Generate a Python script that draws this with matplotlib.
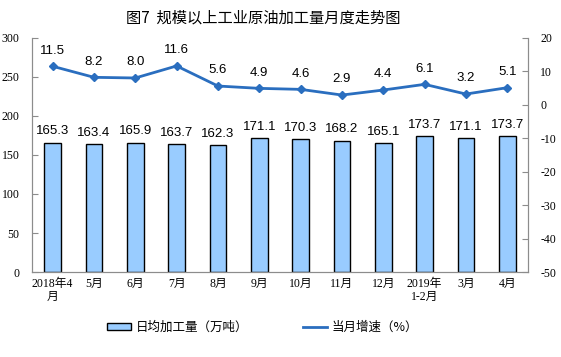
import matplotlib
matplotlib.use("Agg")
import matplotlib.pyplot as plt
from matplotlib.lines import Line2D
from matplotlib.patches import Patch

# ── Data ────────────────────────────────────────────────────────────────
months = ["2018年4\n月", "5月", "6月", "7月", "8月", "9月", "10月", "11月",
          "12月", "2019年\n1-2月", "3月", "4月"]
daily_output = [165.3, 163.4, 165.9, 163.7, 162.3, 171.1, 170.3, 168.2,
                165.1, 173.7, 171.1, 173.7]
growth = [11.5, 8.2, 8.0, 11.6, 5.6, 4.9, 4.6, 2.9, 4.4, 6.1, 3.2, 5.1]

TITLE = "图7  规模以上工业原油加工量月度走势图"
BAR_LABEL = "日均加工量（万吨）"
LINE_LABEL = "当月增速（%）"

# ── Style ───────────────────────────────────────────────────────────────
BAR_COLOR = "#99ccff"
LINE_COLOR = "#2a6ebf"
SPINE_COLOR = "#8c8c8c"
SERIF = ["Liberation Serif", "Noto Sans CJK SC"]
SANS = ["Liberation Sans", "Noto Sans CJK SC"]
CJK = ["Noto Sans CJK SC", "DejaVu Sans"]

plt.rcParams["font.family"] = CJK
plt.rcParams["axes.unicode_minus"] = False

fig = plt.figure(figsize=(5.61, 3.57), dpi=100)
ax = fig.add_axes([0.057, 0.238, 0.884, 0.656])
ax2 = ax.twinx()

x = list(range(len(months)))

# bars
ax.bar(x, daily_output, width=0.4, color=BAR_COLOR, edgecolor="black",
       linewidth=1.0, zorder=2)
for xi, v in zip(x, daily_output):
    ax.annotate(f"{v:.1f}", (xi, v), xytext=(0, 4), textcoords="offset points",
                ha="center", va="bottom", fontsize=9.5, family=SANS)

# line
ax2.plot(x, growth, color=LINE_COLOR, linewidth=2, marker="D", markersize=4.5,
         zorder=3)
for xi, v in zip(x, growth):
    ax2.annotate(f"{v:.1f}", (xi, v), xytext=(0, 7), textcoords="offset points",
                 ha="center", va="bottom", fontsize=9.5, family=SANS)

# axes
ax.set_xlim(-0.5, len(months) - 0.5)
ax.set_ylim(0, 300)
ax.set_yticks(range(0, 301, 50))
ax2.set_ylim(-50, 20)
ax2.set_yticks(range(-50, 21, 10))

ax.set_xticks(x)
ax.set_xticklabels(months, fontsize=8.5, family=SERIF, linespacing=1.1)
ax.tick_params(axis="x", length=0, pad=4)
ax.tick_params(axis="y", direction="in", length=4, color=SPINE_COLOR,
               labelsize=8.5, pad=9)
ax2.tick_params(axis="y", direction="in", length=4, color=SPINE_COLOR,
                labelsize=8.5, pad=9)
for lab in ax.get_yticklabels() + ax2.get_yticklabels():
    lab.set_family(SERIF)

for a in (ax, ax2):
    a.spines["top"].set_visible(False)
    for s in ("left", "right", "bottom"):
        a.spines[s].set_color(SPINE_COLOR)
        a.spines[s].set_linewidth(0.8)

fig.text(0.47, 0.95, TITLE, ha="center", va="center", fontsize=11,
         family=CJK)

handles = [
    Patch(facecolor=BAR_COLOR, edgecolor="black", linewidth=1.0,
          label=BAR_LABEL),
    Line2D([0], [0], color=LINE_COLOR, linewidth=2, label=LINE_LABEL),
]
fig.legend(handles=handles, loc="center", bbox_to_anchor=(0.468, 0.083),
           ncol=2, frameon=False, fontsize=9, columnspacing=4.4,
           handlelength=1.9, handleheight=0.55, handletextpad=0.4)

fig.savefig("out.png", dpi=100)
